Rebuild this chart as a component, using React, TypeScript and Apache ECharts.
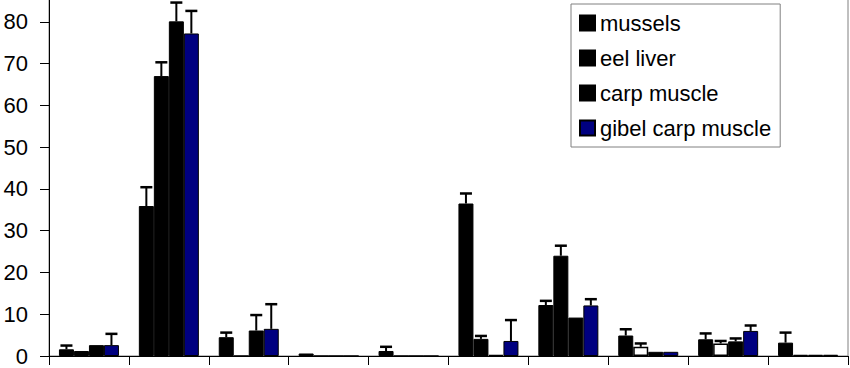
import React, { useEffect, useRef } from "react";
import * as echarts from "echarts";

const categories = ["1", "2", "3", "4", "5", "6", "7", "8", "9", "10"];
const seriesNames = ["mussels", "eel liver", "carp muscle", "gibel carp muscle"];
const yTicks = [0, 10, 20, 30, 40, 50, 60, 70, 80];

const mussels = [1.6, 35.9, 4.5, 0.6, 1.2, 36.5, 12.2, 4.9, 4.0, 3.2];
const musselsErr = [2.5, 40.4, 5.6, null, 2.2, 38.9, 13.2, 6.4, 5.4, 5.6];
const eelLiver = [1.2, 67.0, 0, 0, 0, 4.1, 24.0, 2.2, 3.0, 0.3];
const eelLiverErr = [null, 70.3, null, null, null, 4.8, 26.4, 3.0, 3.6, null];
const carpMuscle = [2.6, 80.1, 6.1, 0, 0, 0.3, 9.2, 1.0, 3.5, 0.3];
const carpMuscleErr = [null, 84.6, 9.8, null, null, null, null, null, 4.2, null];
const gibelCarp = [2.6, 77.2, 6.5, 0, 0, 3.6, 12.1, 1.0, 6.0, 0.3];
const gibelCarpErr = [5.3, 82.6, 12.4, null, null, 8.6, 13.6, null, 7.3, null];

// categories where the eel liver bars render hollow (white)
const eelHollow = [7, 8];

const values = [mussels, eelLiver, carpMuscle, gibelCarp];
const errors = [musselsErr, eelLiverErr, carpMuscleErr, gibelCarpErr];
const colors = ["#000000", "#000000", "#000000", "#000080"];

const BAR_W = 15;
const SHIFT = 20; // chart canvas extends above the visible page
const FONT = "'Liberation Sans', Arial, sans-serif";

export default function App() {
  const ref = useRef<HTMLDivElement>(null);
  useEffect(() => {
    if (!ref.current) return;
    const chart = echarts.init(ref.current, null, { renderer: "svg" });
    const barSeries = values.map((vals, k) => ({
      name: seriesNames[k],
      type: "bar",
      barWidth: BAR_W,
      barGap: "0%",
      itemStyle: { color: colors[k], borderColor: "#000", borderWidth: 1 },
      data: vals.map((v, i) =>
        k === 1 && eelHollow.includes(i)
          ? { value: v, itemStyle: { color: "#ffffff", borderColor: "#000", borderWidth: 1.5 } }
          : v
      ),
    }));
    const errSeries = errors.map((errs, k) => ({
      type: "custom",
      name: "err" + k,
      z: 5,
      data: errs
        .map((e, i) => (e == null ? null : [i, values[k][i], e]))
        .filter((d) => d !== null),
      renderItem: (params: any, api: any) => {
        const base = api.coord([api.value(0), api.value(1)]);
        const top = api.coord([api.value(0), api.value(2)]);
        const cx = base[0] + (k - 1.5) * BAR_W;
        return {
          type: "group",
          children: [
            {
              type: "line",
              shape: { x1: cx, y1: base[1], x2: cx, y2: top[1] },
              style: { stroke: "#000", lineWidth: 2 },
            },
            {
              type: "line",
              shape: { x1: cx - 6, y1: top[1], x2: cx + 6, y2: top[1] },
              style: { stroke: "#000", lineWidth: 2.5 },
            },
          ],
        };
      },
    }));
    chart.setOption({
      animation: false,
      backgroundColor: "#ffffff",
      textStyle: { fontFamily: FONT },
      grid: {
        left: 49,
        right: 2,
        top: 0,
        bottom: 12,
        show: true,
        borderColor: "#808080",
        borderWidth: 1,
        backgroundColor: "transparent",
      },
      legend: {
        data: seriesNames,
        orient: "vertical",
        left: 571,
        top: 4 + SHIFT,
        padding: [8, 9, 8, 8],
        itemGap: 13,
        itemWidth: 15,
        itemHeight: 15,
        icon: "rect",
        borderColor: "#808080",
        borderWidth: 1,
        backgroundColor: "#ffffff",
        textStyle: { fontSize: 22, color: "#000", fontFamily: FONT },
      },
      xAxis: {
        type: "category",
        data: categories,
        axisLine: { lineStyle: { color: "#000", width: 1 } },
        axisTick: { show: true, length: 9, lineStyle: { color: "#000" } },
        axisLabel: { show: false },
      },
      yAxis: {
        type: "value",
        min: 0,
        max: 90,
        interval: 10,
        splitLine: { show: false },
        axisLine: { show: true, lineStyle: { color: "#000", width: 1 } },
        axisTick: { show: true, length: 9, lineStyle: { color: "#000" } },
        axisLabel: {
          fontSize: 22,
          fontFamily: FONT,
          color: "#000",
          margin: 21,
          formatter: (v: number) => (yTicks.includes(v) ? String(v) : ""),
        },
      },
      series: [...barSeries, ...errSeries],
    });
    return () => chart.dispose();
  }, []);
  return (
    <div
      ref={ref}
      style={{
        position: "fixed",
        left: 0,
        top: -SHIFT - 0.2,
        width: 850,
        height: 368 + SHIFT + 0.2,
        background: "#fff",
      }}
    />
  );
}
